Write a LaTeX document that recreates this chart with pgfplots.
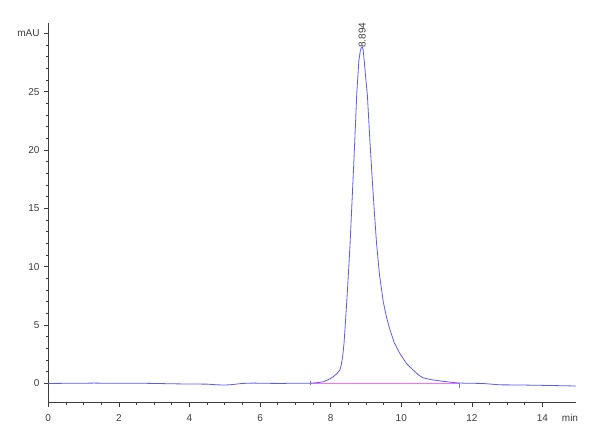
\documentclass[border=0pt]{standalone}
\usepackage{pgfplots}
\pgfplotsset{compat=1.18}
\usepackage{fontspec}
\setmainfont{Liberation Sans}
\definecolor{trace}{RGB}{90,90,255}
\definecolor{base}{RGB}{255,110,255}
\definecolor{axgray}{RGB}{60,60,60}
\begin{document}
\begin{tikzpicture}
\path[use as bounding box] (-36.2pt,-28pt) rectangle (413.8pt,302.1pt);
\begin{axis}[
  at={(0,0)}, anchor=south west,
  scale only axis,
  width=395.8pt, height=284.6pt,
  xmin=0, xmax=14.95, ymin=-1.66, ymax=30.87,
  axis x line=bottom, axis y line=left,
  axis line style={-, axgray, line width=0.6pt},
  tick align=outside,
  major tick length=3pt, minor tick length=1.8pt,
  tick style={axgray, line width=0.5pt},
  xtick={0,2,...,14},
  minor x tick num=3,
  ytick={0,5,...,30},
  yticklabels={0,5,10,15,20,25,mAU},
  minor y tick num=4,
  extra x ticks={14.78},
  extra x tick labels={min},
  extra x tick style={major tick length=0pt, xticklabel style={yshift=-3pt}},
  ticklabel style={font=\fontsize{7.5}{9}\selectfont, text=axgray},
  xticklabel style={yshift=-2pt},
  /pgf/number format/assume math mode=true,
  clip=false,
]
% integration baseline
\addplot[base, line width=1pt] coordinates {(7.42,0.0) (11.64,0.0)};
% main trace
\addplot[trace, line width=0.6pt] coordinates {
(0.00,0.00) (0.5,0.01) (1.0,0.02) (1.3,0.03) (1.8,0.01) (2.5,0.02) (3.0,0.00)
(3.5,-0.03) (4.0,-0.05) (4.5,-0.06) (4.8,-0.12) (5.0,-0.14) (5.2,-0.10)
(5.5,0.00) (5.8,0.03) (6.2,0.01) (6.6,0.00) (7.0,0.02) (7.42,0.02)
(7.6,0.06) (7.79,0.14) (7.95,0.35) (8.07,0.57) (8.18,0.85) (8.26,1.14)
(8.30,1.6) (8.34,2.3) (8.38,3.5) (8.41,4.85) (8.47,7.7) (8.51,9.8)
(8.55,12.0) (8.59,14.6) (8.66,19.2) (8.70,22.0) (8.74,24.9) (8.80,27.7)
(8.84,28.5) (8.87,28.8) (8.894,28.85) (8.92,28.6) (8.95,27.7) (8.99,26.3)
(9.04,24.7) (9.11,20.9) (9.18,17.4) (9.24,14.6) (9.30,12.0) (9.38,9.4)
(9.49,7.0) (9.58,5.7) (9.68,4.6) (9.80,3.5) (9.96,2.57) (10.15,1.7)
(10.34,1.14) (10.50,0.7) (10.62,0.48) (10.85,0.32) (11.1,0.22) (11.35,0.12)
(11.57,0.05) (11.8,0.02) (12.3,0.00) (12.8,-0.12) (13.3,-0.13) (13.7,-0.15)
(14.3,-0.18) (14.95,-0.22)
};
% baseline start / end markers
\addplot[gray, line width=0.5pt] coordinates {(7.42,0.25) (7.42,-0.1)};
\addplot[gray, line width=0.5pt] coordinates {(11.64,0.05) (11.64,-0.4)};
% peak label
\node[rotate=90, anchor=west, inner sep=0pt, text=axgray,
      font=\fontsize{7.5}{9}\selectfont] at (axis cs:8.894,28.75) {8.894};
\end{axis}
\end{tikzpicture}
\end{document}
